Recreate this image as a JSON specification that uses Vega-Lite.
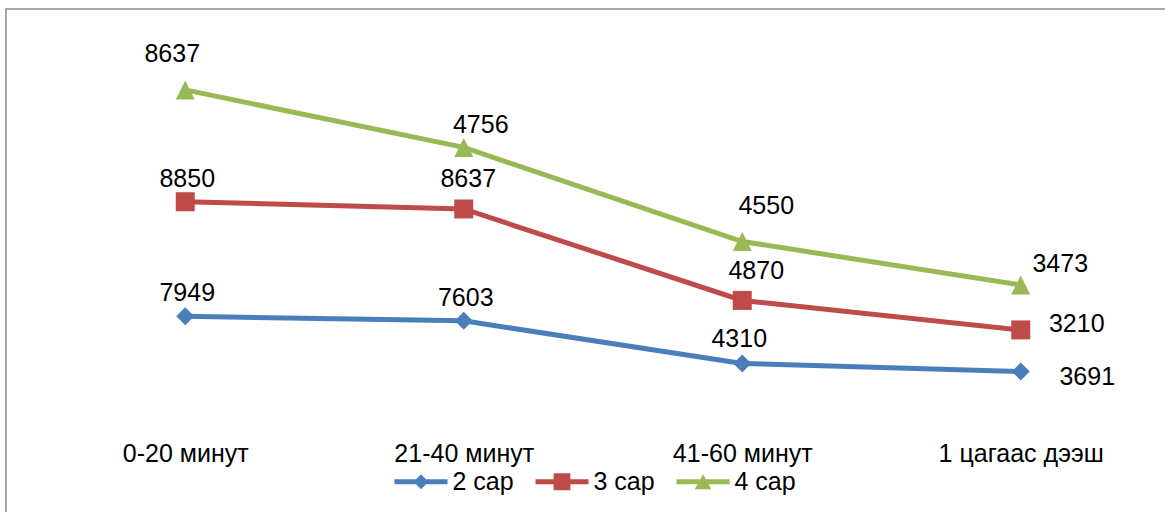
{
  "$schema": "https://vega.github.io/schema/vega-lite/v6.json",
  "width": 1194,
  "height": 511,
  "autosize": {"type": "none"},
  "padding": {"left": 6, "top": 9, "right": -35, "bottom": -8},
  "background": "#ffffff",
  "config": {
    "view": {"stroke": "#8a8a8a", "strokeWidth": 1.5},
    "font": "Liberation Sans"
  },
  "data": {
    "values": [
      {"series": "2 сар", "cat": "0-20 минут", "value": 7949},
      {"series": "2 сар", "cat": "21-40 минут", "value": 7603},
      {"series": "2 сар", "cat": "41-60 минут", "value": 4310},
      {"series": "2 сар", "cat": "1 цагаас дээш", "value": 3691},
      {"series": "3 сар", "cat": "0-20 минут", "value": 8850},
      {"series": "3 сар", "cat": "21-40 минут", "value": 8637},
      {"series": "3 сар", "cat": "41-60 минут", "value": 4870},
      {"series": "3 сар", "cat": "1 цагаас дээш", "value": 3210},
      {"series": "4 сар", "cat": "0-20 минут", "value": 8637},
      {"series": "4 сар", "cat": "21-40 минут", "value": 4756},
      {"series": "4 сар", "cat": "41-60 минут", "value": 4550},
      {"series": "4 сар", "cat": "1 цагаас дээш", "value": 3473}
    ]
  },
  "transform": [
    {"stack": "value", "groupby": ["cat"], "sort": [{"field": "series", "order": "ascending"}], "as": ["v0", "v1"]}
  ],
  "encoding": {
    "x": {
      "field": "cat", "type": "nominal",
      "scale": {"type": "point", "padding": 0.6436, "domain": ["0-20 минут", "21-40 минут", "41-60 минут", "1 цагаас дээш"]},
      "axis": {"title": null, "orient": "bottom", "offset": -79, "domain": false, "ticks": false, "tickSize": 0, "labelPadding": 0, "grid": false, "labelFont": "Liberation Sans", "labelFontSize": 25, "labelColor": "#000000", "labelAngle": 0, "labelOverlap": false, "labelFlush": false, "labelBaseline": "top"}
    },
    "y": {
      "field": "v1", "type": "quantitative",
      "scale": {"domain": [-7776, 31683], "zero": false, "nice": false},
      "axis": null
    }
  },
  "layer": [
    {
      "mark": {"type": "line", "strokeWidth": 5},
      "encoding": {
        "color": {
          "field": "series", "type": "nominal",
          "scale": {"domain": ["2 сар", "3 сар", "4 сар"], "range": ["#4A7EBB", "#BE4B48", "#98B954"]},
          "legend": {
            "title": null, "orient": "none", "direction": "horizontal",
            "legendX": 402.5, "legendY": 460, "padding": 0,
            "symbolSize": 196, "labelOffset": 19, "columnPadding": 20,
            "labelFont": "Liberation Sans", "labelFontSize": 25, "labelColor": "#000000", "labelLimit": 0,
            "encode": {
              "symbols": {
                "update": {
                  "shape": {"signal": "datum.value === '2 сар' ? 'M-3.79,-0.36L3.79,-0.36L3.79,0.36L-3.79,0.36Z M-1.07,0L0,-1.07L1.07,0L0,1.07Z' : datum.value === '3 сар' ? 'M-3.79,-0.36L3.79,-0.36L3.79,0.36L-3.79,0.36Z M-1.2,-1.2L1.2,-1.2L1.2,1.2L-1.2,1.2Z' : 'M-3.79,-0.36L3.79,-0.36L3.79,0.36L-3.79,0.36Z M0,-1.07L1.19,1.07L-1.19,1.07Z'"},
                  "fill": {"scale": "color", "field": "value"},
                  "stroke": {"value": "transparent"},
                  "strokeWidth": {"value": 0},
                  "opacity": {"value": 1},
                  "size": {"value": 196}
                }
              }
            }
          }
        },
        "order": {"value": null}
      }
    },
    {
      "transform": [{"filter": "datum.series === '2 сар'"}],
      "mark": {"type": "point", "filled": true, "opacity": 1, "size": 324, "shape": "diamond", "color": "#4A7EBB"}
    },
    {
      "transform": [{"filter": "datum.series === '3 сар'"}],
      "mark": {"type": "point", "filled": true, "opacity": 1, "size": 361, "shape": "square", "color": "#BE4B48"}
    },
    {
      "transform": [{"filter": "datum.series === '4 сар'"}],
      "mark": {"type": "point", "filled": true, "opacity": 1, "size": 361, "shape": "M0,-1L1,1L-1,1Z", "color": "#98B954"}
    },
    {
      "transform": [{"filter": "(datum.series === '2 сар' && (datum.cat === '0-20 минут' || datum.cat === '21-40 минут')) || (datum.series === '3 сар' && datum.cat === '0-20 минут')"}],
      "mark": {"type": "text", "font": "Liberation Sans", "fontSize": 25, "color": "#000000", "align": "center", "baseline": "middle", "dx": 2, "dy": -23},
      "encoding": {"text": {"field": "value", "type": "quantitative", "format": "d"}}
    },
    {
      "transform": [{"filter": "datum.series === '2 сар' && datum.cat === '41-60 минут'"}],
      "mark": {"type": "text", "font": "Liberation Sans", "fontSize": 25, "color": "#000000", "align": "center", "baseline": "middle", "dx": -3, "dy": -24.5},
      "encoding": {"text": {"field": "value", "type": "quantitative", "format": "d"}}
    },
    {
      "transform": [{"filter": "datum.series === '2 сар' && datum.cat === '1 цагаас дээш'"}],
      "mark": {"type": "text", "font": "Liberation Sans", "fontSize": 25, "color": "#000000", "align": "center", "baseline": "middle", "dx": 66.5, "dy": 5.5},
      "encoding": {"text": {"field": "value", "type": "quantitative", "format": "d"}}
    },
    {
      "transform": [{"filter": "datum.series === '3 сар' && datum.cat === '21-40 минут'"}],
      "mark": {"type": "text", "font": "Liberation Sans", "fontSize": 25, "color": "#000000", "align": "center", "baseline": "middle", "dx": 4.5, "dy": -30},
      "encoding": {"text": {"field": "value", "type": "quantitative", "format": "d"}}
    },
    {
      "transform": [{"filter": "datum.series === '3 сар' && datum.cat === '41-60 минут'"}],
      "mark": {"type": "text", "font": "Liberation Sans", "fontSize": 25, "color": "#000000", "align": "center", "baseline": "middle", "dx": 14, "dy": -29},
      "encoding": {"text": {"field": "value", "type": "quantitative", "format": "d"}}
    },
    {
      "transform": [{"filter": "datum.series === '3 сар' && datum.cat === '1 цагаас дээш'"}],
      "mark": {"type": "text", "font": "Liberation Sans", "fontSize": 25, "color": "#000000", "align": "center", "baseline": "middle", "dx": 56, "dy": -5.5},
      "encoding": {"text": {"field": "value", "type": "quantitative", "format": "d"}}
    },
    {
      "transform": [{"filter": "datum.series === '4 сар' && datum.cat === '0-20 минут'"}],
      "mark": {"type": "text", "font": "Liberation Sans", "fontSize": 25, "color": "#000000", "align": "center", "baseline": "middle", "dx": -13, "dy": -35.5},
      "encoding": {"text": {"field": "value", "type": "quantitative", "format": "d"}}
    },
    {
      "transform": [{"filter": "datum.series === '4 сар' && datum.cat === '21-40 минут'"}],
      "mark": {"type": "text", "font": "Liberation Sans", "fontSize": 25, "color": "#000000", "align": "center", "baseline": "middle", "dx": 17, "dy": -22.5},
      "encoding": {"text": {"field": "value", "type": "quantitative", "format": "d"}}
    },
    {
      "transform": [{"filter": "datum.series === '4 сар' && datum.cat === '41-60 минут'"}],
      "mark": {"type": "text", "font": "Liberation Sans", "fontSize": 25, "color": "#000000", "align": "center", "baseline": "middle", "dx": 24, "dy": -35.5},
      "encoding": {"text": {"field": "value", "type": "quantitative", "format": "d"}}
    },
    {
      "transform": [{"filter": "datum.series === '4 сар' && datum.cat === '1 цагаас дээш'"}],
      "mark": {"type": "text", "font": "Liberation Sans", "fontSize": 25, "color": "#000000", "align": "center", "baseline": "middle", "dx": 39.5, "dy": -21},
      "encoding": {"text": {"field": "value", "type": "quantitative", "format": "d"}}
    }
  ]
}
